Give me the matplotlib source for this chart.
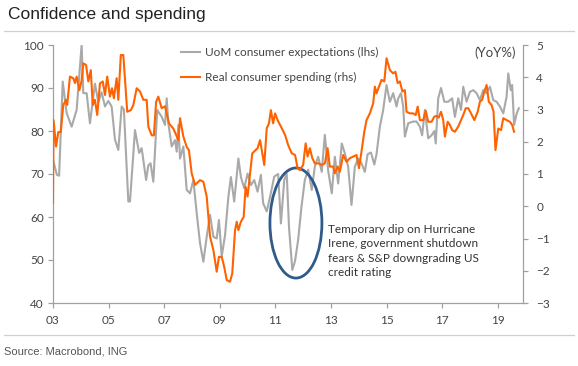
import matplotlib
matplotlib.use("Agg")
import matplotlib.pyplot as plt
from matplotlib.patches import Ellipse
from matplotlib.lines import Line2D

# UoM consumer expectations (lhs), sampled off the chart as decimal years
uom_t = [2003.00, 2003.14, 2003.22, 2003.35, 2003.49, 2003.67, 2003.85, 2004.03, 2004.09, 2004.21,
         2004.33, 2004.51, 2004.63, 2004.75, 2004.87, 2004.99, 2005.11, 2005.23, 2005.35, 2005.47,
         2005.55, 2005.71, 2005.77, 2005.95, 2006.10, 2006.19, 2006.35, 2006.43, 2006.51, 2006.61,
         2006.75, 2006.91, 2007.03, 2007.09, 2007.15, 2007.27, 2007.39, 2007.45, 2007.51, 2007.57,
         2007.69, 2007.81, 2007.93, 2008.05, 2008.17, 2008.29, 2008.41, 2008.53, 2008.65, 2008.77,
         2008.89, 2008.97, 2009.07, 2009.19, 2009.31, 2009.40, 2009.52, 2009.67, 2009.76, 2009.88,
         2010.00, 2010.12, 2010.24, 2010.36, 2010.48, 2010.56, 2010.69, 2010.81, 2010.96, 2011.10,
         2011.20, 2011.32, 2011.41, 2011.49, 2011.61, 2011.71, 2011.82, 2011.94, 2012.06, 2012.18,
         2012.31, 2012.42, 2012.54, 2012.67, 2012.78, 2012.90, 2013.03, 2013.14, 2013.26, 2013.39,
         2013.50, 2013.62, 2013.74, 2013.86, 2013.98, 2014.10, 2014.22, 2014.32, 2014.44, 2014.56,
         2014.64, 2014.76, 2014.88, 2015.00, 2015.12, 2015.24, 2015.36, 2015.42, 2015.52, 2015.60,
         2015.66, 2015.78, 2015.96, 2016.08, 2016.20, 2016.28, 2016.38, 2016.50, 2016.62, 2016.72,
         2016.77, 2016.86, 2016.96, 2017.08, 2017.22, 2017.36, 2017.46, 2017.58, 2017.68, 2017.76,
         2017.88, 2018.00, 2018.12, 2018.24, 2018.36, 2018.48, 2018.60, 2018.72, 2018.84, 2018.96,
         2019.08, 2019.20, 2019.32, 2019.38, 2019.47, 2019.52, 2019.59, 2019.68, 2019.76]
uom_v = [73.3, 69.8, 69.6, 91.5, 84.2, 81.0, 84.9, 100.0, 88.8, 88.8,
         81.8, 91.0, 86.7, 89.0, 85.7, 87.0, 85.7, 78.0, 75.6, 85.7,
         85.0, 63.6, 63.6, 80.2, 74.9, 76.0, 68.6, 72.0, 72.5, 68.2,
         84.9, 83.3, 81.4, 87.6, 81.8, 76.4, 77.9, 75.2, 81.4, 73.6,
         76.4, 66.3, 65.5, 68.6, 60.9, 53.9, 49.6, 55.4, 60.5, 55.4,
         55.0, 59.3, 50.8, 55.8, 64.7, 69.3, 63.6, 73.6, 69.3, 66.7,
         70.1, 67.4, 68.6, 65.9, 69.8, 63.2, 61.3, 64.7, 69.4, 70.0,
         58.5, 68.6, 70.0, 57.7, 47.7, 49.8, 54.7, 62.4, 68.6, 71.0,
         66.3, 71.7, 74.0, 70.5, 79.1, 70.8, 65.5, 74.0, 67.8, 77.1,
         74.8, 71.7, 62.8, 71.7, 73.6, 72.5, 70.5, 74.6, 75.0, 72.2,
         74.6, 81.0, 84.9, 90.7, 86.8, 88.8, 85.7, 87.6, 88.8, 85.7,
         78.7, 81.8, 82.2, 82.2, 81.0, 79.0, 84.9, 78.3, 79.0, 80.0,
         77.1, 87.6, 90.0, 86.8, 86.8, 87.6, 83.3, 87.6, 84.9, 90.3,
         86.8, 89.1, 89.5, 88.8, 87.2, 89.5, 88.8, 90.3, 87.2, 86.8,
         85.7, 84.1, 88.0, 93.4, 89.5, 90.7, 81.4, 84.0, 85.3]

# Real consumer spending YoY% (rhs)
spend_t = [2003.00, 2003.02, 2003.11, 2003.19, 2003.28, 2003.37, 2003.47, 2003.51, 2003.61, 2003.73,
           2003.79, 2003.85, 2003.95, 2004.03, 2004.09, 2004.19, 2004.27, 2004.36, 2004.43, 2004.51,
           2004.59, 2004.69, 2004.79, 2004.87, 2004.95, 2005.05, 2005.12, 2005.19, 2005.29, 2005.35,
           2005.44, 2005.53, 2005.67, 2005.80, 2005.89, 2006.01, 2006.13, 2006.25, 2006.37, 2006.43,
           2006.55, 2006.63, 2006.71, 2006.79, 2006.91, 2007.03, 2007.17, 2007.33, 2007.51, 2007.57,
           2007.69, 2007.81, 2007.89, 2007.99, 2008.11, 2008.29, 2008.41, 2008.53, 2008.65, 2008.77,
           2008.89, 2008.97, 2009.07, 2009.16, 2009.25, 2009.37, 2009.45, 2009.55, 2009.61, 2009.67,
           2009.76, 2009.86, 2009.93, 2010.00, 2010.09, 2010.17, 2010.24, 2010.36, 2010.45, 2010.53,
           2010.60, 2010.69, 2010.77, 2010.84, 2010.92, 2010.99, 2011.08, 2011.23, 2011.35, 2011.46,
           2011.59, 2011.71, 2011.80, 2011.88, 2012.00, 2012.09, 2012.16, 2012.24, 2012.33, 2012.42,
           2012.54, 2012.67, 2012.78, 2012.88, 2012.96, 2013.08, 2013.14, 2013.24, 2013.32, 2013.44,
           2013.56, 2013.68, 2013.80, 2013.92, 2014.01, 2014.10, 2014.20, 2014.28, 2014.40, 2014.52,
           2014.58, 2014.64, 2014.73, 2014.82, 2014.92, 2015.00, 2015.12, 2015.24, 2015.32, 2015.40,
           2015.48, 2015.57, 2015.66, 2015.72, 2015.84, 2015.96, 2016.05, 2016.12, 2016.20, 2016.32,
           2016.41, 2016.50, 2016.62, 2016.72, 2016.80, 2016.88, 2016.96, 2017.04, 2017.10, 2017.20,
           2017.28, 2017.36, 2017.46, 2017.58, 2017.68, 2017.76, 2017.85, 2017.94, 2018.04, 2018.16,
           2018.28, 2018.36, 2018.44, 2018.52, 2018.60, 2018.68, 2018.78, 2018.85, 2018.92, 2019.02,
           2019.12, 2019.20, 2019.32, 2019.44, 2019.52, 2019.59]
spend_v = [0.1, 2.67, 1.85, 2.3, 2.3, 3.14, 3.3, 3.14, 4.02, 3.97,
           3.82, 4.02, 3.6, 3.9, 4.43, 4.38, 3.87, 4.22, 3.14, 3.3,
           2.83, 3.81, 3.87, 3.45, 4.02, 3.4, 3.66, 3.35, 3.97, 3.3,
           4.69, 4.69, 2.93, 2.98, 3.14, 3.66, 3.56, 3.3, 3.3, 2.47,
           2.2, 2.2, 3.24, 3.4, 3.04, 3.1, 2.57, 2.41, 2.05, 2.73,
           2.16, 1.84, 1.74, 1.02, 0.66, 0.81, 0.76, 0.3, -0.94, -1.36,
           -2.03, -1.57, -1.57, -1.88, -2.29, -2.34, -2.08, -0.74, -0.48, -0.74,
           -0.48, -0.33, 0.6, 0.3, 1.02, 1.64, 1.7, 1.8, 2.05, 1.64,
           1.28, 2.42, 2.57, 2.98, 2.57, 2.88, 2.67, 2.42, 2.21, 1.9,
           1.64, 1.59, 1.18, 1.12, 1.28, 1.95, 1.54, 1.8, 1.49, 1.33,
           1.33, 1.28, 1.33, 1.8, 1.23, 1.23, 1.02, 1.23, 1.07, 1.59,
           1.38, 1.49, 1.54, 1.59, 1.18, 1.7, 2.31, 2.67, 2.88, 3.19,
           3.71, 3.5, 3.71, 3.92, 3.87, 4.59, 4.22, 4.12, 4.17, 3.82,
           3.87, 3.56, 3.6, 2.93, 2.88, 2.88, 2.83, 3.09, 2.67, 2.67,
           2.96, 2.62, 2.62, 2.78, 2.8, 2.75, 2.93, 2.67, 2.16, 2.62,
           2.52, 2.36, 2.31, 2.47, 2.67, 2.83, 3.04, 3.04, 2.88, 2.67,
           2.93, 3.24, 3.3, 3.56, 3.76, 3.24, 3.14, 2.93, 1.74, 2.41,
           2.36, 2.73, 2.67, 2.62, 2.52, 2.31]

year_ticks = [2003, 2005, 2007, 2009, 2011, 2013, 2015, 2017, 2019]
year_labels = ["03", "05", "07", "09", "11", "13", "15", "17", "19"]
lhs_ticks = [40, 50, 60, 70, 80, 90, 100]
rhs_ticks = [-3, -2, -1, 0, 1, 2, 3, 4, 5]

GREY = "#a9a9a9"
ORANGE = "#ff6200"
AXC = "#a0a0a0"
TXT = "#444444"
FNT = ["Lato", "DejaVu Sans"]

fig = plt.figure(figsize=(5.78, 3.66), dpi=100)
ax = fig.add_axes([53 / 578, 1 - 303 / 366, 470 / 578, 258 / 366])
ax2 = ax.twinx()

ax.plot(uom_t, uom_v, color=GREY, lw=1.5, zorder=2)
ax2.plot(spend_t, spend_v, color=ORANGE, lw=1.5, zorder=3)

ax.set_xlim(2003, 2019.91)
ax.set_ylim(40, 100)
ax2.set_ylim(-3, 5)
ax.set_xticks(year_ticks)
ax.set_xticklabels(year_labels)
ax.set_yticks(lhs_ticks)
ax2.set_yticks(rhs_ticks)

for a in (ax, ax2):
    for s in a.spines.values():
        s.set_color(AXC)
        s.set_linewidth(0.9)
    a.spines["top"].set_visible(False)
    a.tick_params(colors=AXC, labelcolor=TXT, length=3.5, width=0.9, labelsize=8.5)
    for lab in a.get_xticklabels() + a.get_yticklabels():
        lab.set_family(FNT)
ax.spines["right"].set_visible(False)
ax2.spines["left"].set_visible(False)
ax2.spines["bottom"].set_visible(False)
ax.tick_params(axis="x", pad=5)
ax.tick_params(axis="y", pad=3)
ax2.tick_params(axis="y", pad=6)

# legend
handles = [Line2D([], [], color=GREY, lw=1.5), Line2D([], [], color=ORANGE, lw=1.5)]
ax2.legend(handles, ["UoM consumer expectations (lhs)", "Real consumer spending (rhs)"],
           loc="upper left", bbox_to_anchor=(0.25, 1.035), frameon=False,
           handlelength=1.6, handletextpad=0.4, labelspacing=1.25,
           prop={"family": FNT, "size": 8.5}, labelcolor=TXT)

ax2.text(0.985, 0.995, "(YoY%)", transform=ax.transAxes, ha="right", va="top",
         fontsize=9.5, family=FNT, color=TXT)

# highlight of the 2011 dip
ax.add_patch(Ellipse((2011.74, 58.6), 1.87, 25.6, fill=False, edgecolor="#2e5b8c",
                     lw=2.0, zorder=5))
ax.text(2012.89, 58.3, "Temporary dip on Hurricane\nIrene, government shutdown\n"
        "fears & S&P downgrading US\ncredit rating", ha="left", va="top",
        fontsize=8.5, family=FNT, color="#333333", linespacing=1.35)

fig.text(8 / 578, 1 - 15 / 366, "Confidence and spending", fontsize=12.5,
         family=["Liberation Sans", "DejaVu Sans"], color="#222222", ha="left", va="center")
fig.add_artist(Line2D([4 / 578, 574 / 578], [1 - 31 / 366] * 2, color="#d0d0d0", lw=0.9))
fig.add_artist(Line2D([4 / 578, 574 / 578], [1 - 335 / 366] * 2, color="#d0d0d0", lw=0.9))
fig.text(4 / 578, 1 - 352 / 366, "Source: Macrobond, ING", fontsize=8,
         family=["Liberation Sans", "DejaVu Sans"], color="#555555", ha="left", va="center")

fig.savefig("out.png", dpi=100)
